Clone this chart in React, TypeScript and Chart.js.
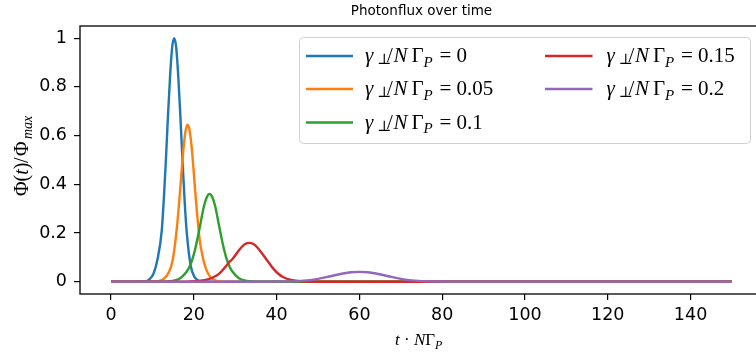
import React, { useEffect, useRef } from "react";
import { Chart, registerables } from "chart.js";

Chart.register(...registerables);

const TITLE = "Photonflux over time";
const SERIES_VALUES = ["0", "0.05", "0.1", "0.15", "0.2"];
const COLORS = ["#1f77b4", "#ff7f0e", "#2ca02c", "#d62728", "#9467bd"];
const X_TICKS = [0, 20, 40, 60, 80, 100, 120, 140];
const Y_TICKS = [0, 0.2, 0.4, 0.6, 0.8, 1];

// gamma = 0
const t0 = [0, 8.25, 9.25, 10.25, 11.25, 12.25, 12.75, 13.25, 13.75, 14.25, 14.75, 15.25, 15.75, 16.25, 16.75, 17.25, 17.75, 18.25, 19.25, 20.25, 21.25, 22.5, 150];
const phi0 = [0, 0.002, 0.01, 0.033, 0.095, 0.21, 0.34, 0.5, 0.68, 0.84, 0.96, 1.0, 0.96, 0.84, 0.68, 0.5, 0.34, 0.21, 0.065, 0.018, 0.004, 0, 0];
// gamma = 0.05
const t1 = [0, 10.5, 11.5, 12.5, 13.5, 14.5, 15, 15.5, 16, 16.5, 17, 17.5, 18, 18.5, 19, 19.5, 20, 20.5, 21, 21.5, 22, 22.5, 23.5, 24.5, 25.5, 26.5, 28, 150];
const phi1 = [0, 0.001, 0.003, 0.01, 0.026, 0.062, 0.1, 0.161, 0.239, 0.335, 0.445, 0.548, 0.619, 0.645, 0.619, 0.548, 0.445, 0.335, 0.239, 0.161, 0.115, 0.077, 0.032, 0.012, 0.004, 0.001, 0, 0];
// gamma = 0.1
const t2 = [0, 12, 13.8, 15.4, 16.8, 18.2, 18.9, 19.6, 20.3, 21, 21.7, 22.4, 23.1, 23.8, 24.5, 25.2, 25.9, 26.6, 27.3, 28, 28.7, 29.4, 30.8, 32.2, 33.8, 36, 150];
const phi2 = [0, 0, 0.002, 0.006, 0.016, 0.04, 0.06, 0.09, 0.133, 0.187, 0.248, 0.307, 0.346, 0.361, 0.346, 0.307, 0.248, 0.187, 0.133, 0.09, 0.06, 0.04, 0.016, 0.006, 0.002, 0, 0];
// gamma = 0.15
const t3 = [0, 15, 18.4, 21.4, 23.4, 25.4, 26.4, 27.4, 28.4, 29.4, 30.4, 31.4, 32.4, 33.4, 34.4, 35.4, 36.4, 37.4, 38.4, 39.4, 40.4, 41.4, 43.4, 45.4, 48.4, 52, 150];
const phi3 = [0, 0, 0.001, 0.004, 0.01, 0.025, 0.038, 0.057, 0.078, 0.095, 0.118, 0.14, 0.155, 0.16, 0.155, 0.14, 0.118, 0.095, 0.072, 0.05, 0.033, 0.021, 0.008, 0.003, 0.0005, 0, 0];
// gamma = 0.2
const t4 = [0, 36, 41, 45, 48, 50, 52, 54, 56, 58, 60, 62, 64, 66, 68, 70, 72, 75, 79, 84, 150];
const phi4 = [0, 0, 0.001, 0.003, 0.007, 0.012, 0.019, 0.027, 0.034, 0.039, 0.041, 0.039, 0.034, 0.027, 0.019, 0.012, 0.007, 0.003, 0.001, 0, 0];

const SERIES_T = [t0, t1, t2, t3, t4];
const SERIES_PHI = [phi0, phi1, phi2, phi3, phi4];

type Seg = { t: string; it?: boolean; sub?: boolean; dx?: number; dy?: number; family?: string };

const SERIF = '"Liberation Serif", "DejaVu Serif", serif';

function drawSegs(ctx: CanvasRenderingContext2D, segs: Seg[], x: number, y: number, size: number, subSize: number) {
  let cx = x;
  for (const s of segs) {
    const fs = s.sub ? subSize : size;
    ctx.font = `${s.it ? "italic " : ""}${fs}px ${s.family ?? SERIF}`;
    const px = s.dx !== undefined ? x + s.dx : cx;
    const dy = s.dy !== undefined ? s.dy : s.sub ? size * 0.22 : 0;
    ctx.fillText(s.t, px, y + dy);
    cx = px + ctx.measureText(s.t).width;
  }
}

function legendSegs(v: string): Seg[] {
  return [
    { t: "γ", it: true, dx: 0 },
    { t: "⊥", sub: true, dx: 12, dy: 2, family: '"DejaVu Serif"' },
    { t: "/", dx: 22 },
    { t: "N", it: true, dx: 28.5 },
    { t: "Γ", dx: 46.5 },
    { t: "P", it: true, sub: true, dx: 58.5 },
    { t: "=", dx: 74.5 },
    { t: v, dx: 91.5 },
  ];
}

const decorPlugin = {
  id: "decor",
  afterDatasetsDraw(chart: any) {
    const ctx: CanvasRenderingContext2D = chart.ctx;
    const a = chart.chartArea;
    ctx.save();
    // frame
    ctx.strokeStyle = "#000";
    ctx.lineWidth = 1.3;
    ctx.strokeRect(a.left, a.top, a.right - a.left, a.bottom - a.top);

    // legend box
    const bx = 299.5, by = 37.5, bw = 451, bh = 106, r = 4;
    ctx.beginPath();
    ctx.moveTo(bx + r, by);
    ctx.lineTo(bx + bw - r, by);
    ctx.quadraticCurveTo(bx + bw, by, bx + bw, by + r);
    ctx.lineTo(bx + bw, by + bh - r);
    ctx.quadraticCurveTo(bx + bw, by + bh, bx + bw - r, by + bh);
    ctx.lineTo(bx + r, by + bh);
    ctx.quadraticCurveTo(bx, by + bh, bx, by + bh - r);
    ctx.lineTo(bx, by + r);
    ctx.quadraticCurveTo(bx, by, bx + r, by);
    ctx.closePath();
    ctx.fillStyle = "rgba(255,255,255,0.8)";
    ctx.fill();
    ctx.strokeStyle = "#d0d0d0";
    ctx.lineWidth = 1;
    ctx.stroke();

    const rows = [56, 89, 122.5];
    const cols = [
      { hx0: 306, hx1: 353, tx: 365 },
      { hx0: 545, hx1: 592.5, tx: 606.5 },
    ];
    SERIES_VALUES.forEach((v, i) => {
      const c = cols[i < 3 ? 0 : 1];
      const y = rows[i < 3 ? i : i - 3];
      ctx.strokeStyle = COLORS[i];
      ctx.lineWidth = 2.4;
      ctx.beginPath();
      ctx.moveTo(c.hx0, y);
      ctx.lineTo(c.hx1, y);
      ctx.stroke();
      ctx.fillStyle = "#000";
      ctx.textBaseline = "alphabetic";
      ctx.textAlign = "left";
      drawSegs(ctx, legendSegs(v), c.tx, y + 6, 21, 15);
    });

    // title
    ctx.fillStyle = "#000";
    ctx.font = '13.5px "DejaVu Sans"';
    ctx.textAlign = "center";
    ctx.textBaseline = "alphabetic";
    ctx.fillText(TITLE, (a.left + a.right) / 2, 15);

    // x label
    ctx.textAlign = "left";
    drawSegs(ctx, [
      { t: "t", it: true },
      { t: " · " },
      { t: "N", it: true },
      { t: "Γ" },
      { t: "P", it: true, sub: true },
    ], 395, 345, 17, 12);

    // y label
    ctx.save();
    ctx.translate(28, 196);
    ctx.rotate(-Math.PI / 2);
    drawSegs(ctx, [
      { t: "Φ" },
      { t: "(" },
      { t: "t", it: true },
      { t: ")" },
      { t: "/", dx: 33 },
      { t: "Φ", dx: 40 },
      { t: "max", it: true, sub: true, dx: 57 },
    ], 0, 0, 20, 14);
    ctx.restore();

    ctx.restore();
  },
};

export default function App() {
  const ref = useRef<HTMLCanvasElement | null>(null);
  useEffect(() => {
    if (!ref.current) return;
    const datasets = SERIES_T.map((ts, i) => ({
      label: SERIES_VALUES[i],
      data: ts.map((x, j) => ({ x, y: SERIES_PHI[i][j] })),
      borderColor: COLORS[i],
      backgroundColor: COLORS[i],
      borderWidth: 2.4,
      pointRadius: 0,
      fill: false,
      cubicInterpolationMode: "monotone" as const,
      order: 4 - i,
    }));
    const tickFont = { family: '"DejaVu Sans"', size: 17.5 };
    const chart = new Chart(ref.current, {
      type: "line",
      data: { datasets },
      options: {
        animation: false,
        responsive: false,
        devicePixelRatio: 1,
        layout: { padding: { left: 0, right: 7, top: 26, bottom: 0 } },
        plugins: {
          legend: { display: false },
          title: { display: false },
          tooltip: { enabled: false },
        },
        scales: {
          x: {
            type: "linear",
            min: -7.5,
            max: 157.5,
            afterBuildTicks: (s: any) => {
              s.ticks = X_TICKS.map((v) => ({ value: v }));
            },
            afterFit: (s: any) => {
              s.height = 64;
            },
            grid: { drawOnChartArea: false, drawTicks: true, tickLength: 6, color: "#000", lineWidth: 1.2 },
            border: { display: false },
            ticks: {
              font: tickFont,
              color: "#000",
              padding: 5,
              maxRotation: 0,
              autoSkip: false,
              callback: (v: any) => String(v),
            },
          },
          y: {
            type: "linear",
            min: -0.05,
            max: 1.05,
            afterBuildTicks: (s: any) => {
              s.ticks = Y_TICKS.map((v) => ({ value: v }));
            },
            afterFit: (s: any) => {
              s.width = 80;
            },
            grid: { drawOnChartArea: false, drawTicks: true, tickLength: 6, color: "#000", lineWidth: 1.2 },
            border: { display: false },
            ticks: {
              font: tickFont,
              color: "#000",
              padding: 7,
              autoSkip: false,
              callback: (v: any) => {
                const n = Number(v);
                return Math.abs(n) < 1e-9 ? "0" : Math.abs(n - 1) < 1e-9 ? "1" : n.toFixed(1);
              },
            },
          },
        },
      },
      plugins: [decorPlugin],
    });
    return () => chart.destroy();
  }, []);
  return (
    <div style={{ position: "fixed", left: 0, top: 0, width: 756, height: 358, overflow: "hidden", background: "#fff" }}>
      <canvas ref={ref} width={770} height={358} style={{ display: "block", width: 770, height: 358 }} />
    </div>
  );
}
